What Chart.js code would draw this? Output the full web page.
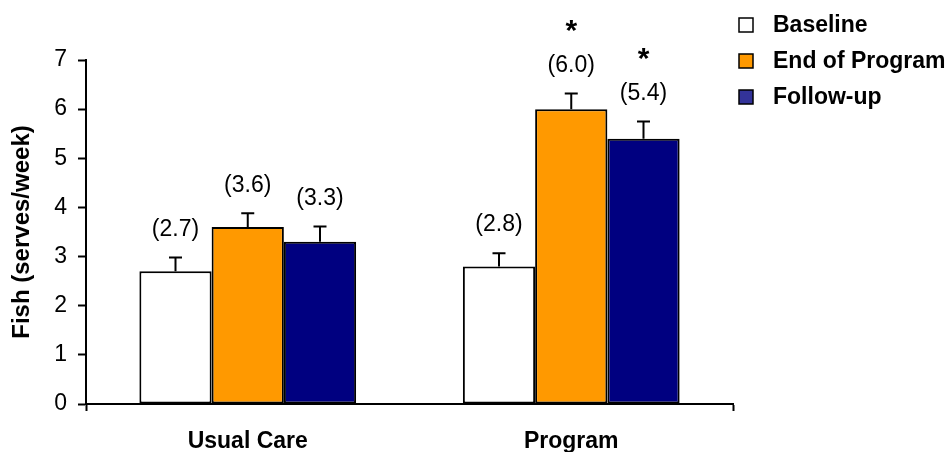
<!DOCTYPE html>
<html>
<head>
<meta charset="utf-8">
<script src="https://cdn.jsdelivr.net/npm/chart.js@4/dist/chart.umd.min.js"></script>
<style>
  html, body { margin: 0; padding: 0; background: #fff; }
  #wrap { width: 950px; height: 452px; position: relative; }
</style>
</head>
<body>
<div id="wrap"><canvas id="chart"></canvas></div>
<script>
  // Data
  const groups = ["Usual Care", "Program"];
  const seriesNames = ["Baseline", "End of Program", "Follow-up"];
  const baseline = [2.7, 2.8];
  const endProgram = [3.6, 6.0];
  const followUp = [3.3, 5.4];
  const baselineErr = [0.28, 0.27];
  const endProgramErr = [0.28, 0.32];
  const followUpErr = [0.31, 0.35];
  const endProgramSig = ["", "*"];
  const followUpSig = ["", "*"];
  const yTicks = [0, 1, 2, 3, 4, 5, 6, 7];

  const FONT = "'Liberation Sans', Arial, sans-serif";
  const colors = ["#ffffff", "#ff9900", "#000080"];
  const legendColors = ["#ffffff", "#ff9900", "#333399"];
  const errs = [baselineErr, endProgramErr, followUpErr];
  const sigs = [["", ""], endProgramSig, followUpSig];

  // error bars, value labels, stars
  const annotations = {
    id: "annotations",
    afterDatasetsDraw(chart) {
      const { ctx, scales: { y } } = chart;
      ctx.save();
      chart.data.datasets.forEach((ds, i) => {
        const meta = chart.getDatasetMeta(i);
        meta.data.forEach((bar, j) => {
          const v = ds.data[j];
          const top = y.getPixelForValue(v + errs[i][j]);
          ctx.strokeStyle = "#000";
          ctx.lineWidth = 2;
          ctx.beginPath();
          ctx.moveTo(bar.x, bar.y);
          ctx.lineTo(bar.x, top);
          ctx.moveTo(bar.x - 6.5, top);
          ctx.lineTo(bar.x + 6.5, top);
          ctx.stroke();

          ctx.fillStyle = "#000";
          ctx.textAlign = "center";
          ctx.textBaseline = "middle";
          ctx.font = `23px ${FONT}`;
          const ly = top - 28;
          ctx.fillText(`(${v.toFixed(1)})`, bar.x, ly);
          if (sigs[i][j]) {
            ctx.font = `bold 30px ${FONT}`;
            ctx.fillText(sigs[i][j], bar.x, ly - 34);
          }
        });
      });
      ctx.restore();
    }
  };

  // legend on the right
  const sideLegend = {
    id: "sideLegend",
    afterDraw(chart) {
      const { ctx } = chart;
      const rows = [25, 61, 97];
      ctx.save();
      seriesNames.forEach((name, i) => {
        ctx.fillStyle = legendColors[i];
        ctx.fillRect(739, rows[i] - 7, 14, 14);
        ctx.strokeStyle = "#000";
        ctx.lineWidth = 1.5;
        ctx.strokeRect(739, rows[i] - 7, 14, 14);
        ctx.fillStyle = "#000";
        ctx.font = `bold 23px ${FONT}`;
        ctx.textAlign = "left";
        ctx.textBaseline = "middle";
        ctx.fillText(name, 773, rows[i] + 1);
      });
      ctx.restore();
    }
  };

  const datasets = [baseline, endProgram, followUp].map((d, i) => ({
    label: seriesNames[i],
    data: d,
    backgroundColor: colors[i],
    borderColor: "#000",
    borderWidth: 2,
    borderSkipped: false,
    categoryPercentage: 0.67,
    barPercentage: 1.0
  }));

  new Chart(document.getElementById("chart"), {
    type: "bar",
    data: { labels: groups, datasets },
    options: {
      responsive: true,
      maintainAspectRatio: false,
      animation: false,
      layout: { padding: { top: 60, right: 217, left: 0, bottom: 0 } },
      plugins: {
        legend: { display: false },
        tooltip: { enabled: false }
      },
      scales: {
        x: {
          grid: {
            offset: true,
            drawOnChartArea: false,
            tickLength: 7,
            tickWidth: 2,
            tickColor: (c) => (c.index === 1 ? "rgba(0,0,0,0)" : "#000")
          },
          border: { display: true, color: "#000", width: 2 },
          ticks: {
            color: "#000",
            padding: 17,
            font: { family: FONT, size: 23, weight: "bold" }
          },
          afterFit: (s) => { s.height = 48; }
        },
        y: {
          min: 0,
          max: 7,
          afterBuildTicks: (s) => { s.ticks = yTicks.map(v => ({ value: v })); },
          grid: {
            drawOnChartArea: false,
            tickLength: 8,
            tickWidth: 2,
            tickColor: "#000"
          },
          border: { display: true, color: "#000", width: 2 },
          ticks: {
            color: "#000",
            padding: 11,
            font: { family: FONT, size: 23 }
          },
          title: {
            display: true,
            text: "Fish (serves/week)",
            color: "#000",
            padding: { top: 8, bottom: 0 },
            font: { family: FONT, size: 24, weight: "bold" }
          },
          afterFit: (s) => { s.width = 86; }
        }
      }
    },
    plugins: [annotations, sideLegend]
  });
</script>
</body>
</html>
